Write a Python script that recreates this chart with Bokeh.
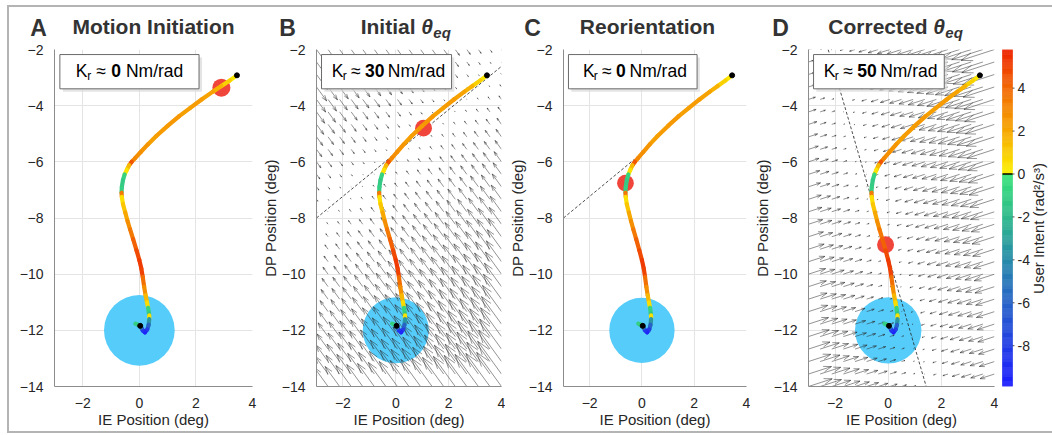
import numpy as np
from bokeh.plotting import figure
from bokeh.layouts import row, column
from bokeh.models import Label, Range1d, FixedTicker
from bokeh.embed import file_html
from bokeh.resources import INLINE

# ---------------- data ----------------
traj_x = [3.45, 3.2, 2.9, 2.6, 2.2, 1.8, 1.4, 1.0, 0.6, 0.3, 0.05, -0.15, -0.27, -0.36,
          -0.44, -0.52, -0.58, -0.62, -0.63, -0.62, -0.58, -0.5, -0.42, -0.33, -0.22, -0.1,
          0.0, 0.07, 0.12, 0.17, 0.22, 0.27, 0.31, 0.34, 0.35, 0.35, 0.33, 0.28, 0.2, 0.12,
          0.07, 0.02, -0.06, -0.14]
traj_y = [-2.92, -3.1, -3.3, -3.5, -3.78, -4.08, -4.38, -4.72, -5.08, -5.38, -5.65, -5.87,
          -6.0, -6.12, -6.28, -6.45, -6.65, -6.9, -7.1, -7.25, -7.5, -7.8, -8.1, -8.4, -8.75,
          -9.15, -9.5, -9.8, -10.1, -10.45, -10.75, -11.0, -11.2, -11.4, -11.47, -11.6, -11.8,
          -11.97, -12.07, -12.0, -11.9, -11.84, -11.8, -11.76]
traj_intent = [0.3, 0.9, 1.7, 2.2, 2.4, 2.3, 2.5, 2.4, 2.3, 2.6, 2.8, 3.0, 4.5, 1.5,
               0.4, -0.8, -1.2, -1.0, 3.5, 0.5, 1.2, 2.0, 2.8, 3.5, 4.2, 4.8,
               5.2, 5.0, 3.8, 2.8, 1.6, 0.6, -0.8, -1.5, 0.5, -3.5, -6.0,
               -8.0, -9.5, -8.5, -5.0, -2.0, -1.0, -0.8]
marker_x = [3.45, 0.03]
marker_y = [-2.92, -11.84]

panel_letters = ["A", "B", "C", "D"]
panel_titles = ["Motion Initiation", "Initial", "Reorientation", "Corrected"]
title_has_theta = [False, True, False, True]
stiffness_text = ["0", "30", "0", "50"]
red_x = [2.9, 1.05, -0.63, -0.1]
red_y = [-3.36, -4.8, -6.76, -8.95]
target_x = [0.0]
target_y = [-12.0]
target_r = 1.25
eq_lines = [None, ((-3.0, -8.0), (4.0, -2.6)), ((-3.0, -8.0), (-0.3, -5.92)),
            ((-2.26, -2.0), (1.43, -14.0))]
field_lines = [None, ((-3.0, -8.0), (4.0, -2.6)), None, ((-2.26, -2.0), (1.43, -14.0))]
field_scale = [0.0, 0.17, 0.0, 0.22]
x_ticks = [-2, 0, 2, 4]
y_ticks = [-14, -12, -10, -8, -6, -4, -2]
cb_ticks = [-8, -6, -4, -2, 0, 2, 4]
intent_low, intent_high = -9.9, 5.8
cb_label = "User Intent (rad²/s³)"

# colormap anchors (value, rgb)
cmap_anchors = [(-9.9, (30, 30, 255)), (-8, (35, 62, 230)), (-6, (40, 100, 200)),
                (-4, (40, 140, 170)), (-2, (48, 185, 140)), (-0.001, (58, 228, 122)),
                (0.0, (252, 242, 0)), (2, (247, 168, 0)), (4, (242, 105, 5)),
                (5.8, (238, 35, 0))]

FONT = "Liberation Sans"
SX = 198 / 7.0
SY = 337 / 12.0
FRAME_LEFTS = [54, 303, 548, 796]


def intent_color(v):
    v = max(intent_low, min(intent_high, v))
    for (a, ca), (b, cb_) in zip(cmap_anchors[:-1], cmap_anchors[1:]):
        if a <= v <= b:
            t = 0 if b == a else (v - a) / (b - a)
            c = [int(round(ca[k] + t * (cb_[k] - ca[k]))) for k in range(3)]
            return "#%02x%02x%02x" % tuple(c)
    return "#000000"


def quiver(p, line, scale):
    (x0, y0), (x1, y1) = line
    dx, dy = x1 - x0, y1 - y0
    n = np.hypot(dx, dy)
    dx, dy = dx / n, dy / n
    gx, gy = np.meshgrid(np.linspace(-3, 4, 17), np.linspace(-14, -2, 28))
    gx = gx.ravel()
    gy = gy.ravel()
    wx, wy = x0 - gx, y0 - gy
    pr = wx * dx + wy * dy
    u = scale * (wx - pr * dx)
    v = scale * (wy - pr * dy)
    tx, ty = gx + u, gy + v
    al, be = 0.33, 0.33
    h1x, h1y = tx - al * (u + be * v), ty - al * (v - be * u)
    h2x, h2y = tx - al * (u - be * v), ty - al * (v + be * u)
    xs0 = np.concatenate([gx, tx, tx])
    ys0 = np.concatenate([gy, ty, ty])
    xs1 = np.concatenate([tx, h1x, h2x])
    ys1 = np.concatenate([ty, h1y, h2y])
    p.segment(xs0, ys0, xs1, ys1, line_color="#2a2a2a", line_width=0.6, line_alpha=0.85)


def add_label(p, x, y, text, size, style="normal", color="#000000", align="left",
              baseline="middle", angle=0.0):
    p.add_layout(Label(x=x, y=y, text=text, text_font=FONT, text_font_size=size,
                       text_font_style=style, text_color=color, text_align=align,
                       text_baseline=baseline, angle=angle))


def make_panel(i, left, right, ylabel):
    p = figure(width=left + 198 + right, height=390, x_range=Range1d(-3, 4),
               y_range=Range1d(-14, -2), toolbar_location=None, output_backend="svg",
               min_border_left=left, min_border_right=right, min_border_top=8,
               min_border_bottom=45, title=None)
    p.outline_line_color = None
    p.xaxis.ticker = FixedTicker(ticks=x_ticks)
    p.yaxis.ticker = FixedTicker(ticks=y_ticks)
    for ax in (p.xaxis[0], p.yaxis[0]):
        ax.major_label_text_font = FONT
        ax.major_label_text_font_size = "14px"
        ax.major_label_text_color = "#262626"
        ax.axis_line_color = "#8c8c8c"
        ax.major_tick_line_color = None
        ax.minor_tick_line_color = None
        ax.major_label_standoff = 5
        ax.axis_label_text_font = FONT
        ax.axis_label_text_font_size = "15px"
        ax.axis_label_text_font_style = "normal"
        ax.axis_label_text_color = "#262626"
        ax.axis_label_standoff = 0
    p.xaxis.axis_label = "IE Position (deg)"
    if ylabel:
        p.yaxis.axis_label = "DP Position (deg)"
    p.grid.grid_line_color = "#e4e4e4"

    # target
    p.circle(target_x, target_y, radius=target_r, fill_color="#56ccfa", line_color=None)
    # field
    if field_lines[i] is not None:
        quiver(p, field_lines[i], field_scale[i])
    # equilibrium line
    if eq_lines[i] is not None:
        (a, b), (c, d) = eq_lines[i]
        p.line([a, c], [b, d], line_color="#222222", line_width=0.8, line_dash="3 2")
    # red dot
    p.circle([red_x[i]], [red_y[i]], radius=0.32, fill_color="#f0453b", line_color=None)
    # trajectory
    cols = [intent_color(v) for v in traj_intent[:-1]]
    p.segment(traj_x[:-1], traj_y[:-1], traj_x[1:], traj_y[1:], line_color=cols,
              line_width=4.2, line_cap="round")
    p.scatter(marker_x, marker_y, size=5, color="black")

    # stiffness box
    bx0, bx1, by0, by1 = -2.81, 2.11, -3.40, -2.18
    p.quad(left=bx0 + 3 / SX, right=bx1 + 3 / SX, bottom=by0 - 3 / SY, top=by1 - 3 / SY,
           fill_color="#d8d8d8", line_color=None, fill_alpha=0.7)
    p.quad(left=bx0, right=bx1, bottom=by0, top=by1, fill_color="white",
           line_color="#6a6a6a", line_width=1)
    nd = len(stiffness_text[i])
    total = 97.9 + 9.73 * nd
    s = 75 - total / 2.0
    ym = -2 - 21 / SY
    add_label(p, -3 + s / SX, ym, "K", "17.5px")
    add_label(p, -3 + (s + 11.67) / SX, ym - 5 / SY, "r", "12px")
    add_label(p, -3 + (s + 20.54) / SX, ym, "≈", "17.5px")
    add_label(p, -3 + (s + 35.63) / SX, ym, stiffness_text[i], "17.5px", style="bold")
    add_label(p, -3 + (s + 35.63 + 9.73 * nd + 4.87) / SX, ym, "Nm/rad", "17.5px")
    return p


# ---------------- title strip (absolute pixel coordinates) ----------------
tf = figure(width=1043, height=34, x_range=Range1d(9, 1052), y_range=Range1d(41, 7),
            toolbar_location=None, output_backend="svg", x_axis_type=None, y_axis_type=None,
            min_border=0, title=None)
tf.outline_line_color = None
tf.grid.visible = False
for i in range(4):
    fl = FRAME_LEFTS[i]
    add_label(tf, fl - 16, 27, panel_letters[i], "23px", style="bold", color="#333333",
              align="center")
    if not title_has_theta[i]:
        add_label(tf, fl + 99, 26, panel_titles[i], "21px", style="bold", color="#333333",
                  align="center")
    else:
        t = fl + (112 if i == 1 else 131)
        add_label(tf, t, 26, panel_titles[i], "21px", style="bold", color="#333333",
                  align="right")
        add_label(tf, t + 5.8, 26, "θ", "21px", style="bold italic", color="#333333")
        add_label(tf, t + 17.8, 32, "eq", "15px", style="bold italic", color="#333333")

pa = make_panel(0, 45, 6, False)
pb = make_panel(1, 45, 4, True)
pc = make_panel(2, 43, 4, True)
pd = make_panel(3, 46, 4, True)

# ---------------- colorbar ----------------
cb = figure(width=54, height=390, x_range=Range1d(998, 1052),
            y_range=Range1d(intent_low, intent_high), toolbar_location=None,
            output_backend="svg", x_axis_type=None, y_axis_type=None,
            min_border_left=0, min_border_right=0, min_border_top=8, min_border_bottom=45,
            title=None)
cb.outline_line_color = None
cb.grid.visible = False
edges = np.linspace(intent_low, intent_high, 315)
ccols = [intent_color(v) for v in (edges[:-1] + edges[1:]) / 2]
cb.quad(left=1002, right=1012, bottom=edges[:-1], top=edges[1:], fill_color=ccols,
        line_color=ccols, line_width=0.5)
cb.segment([1002], [0], [1012], [0], line_color="black", line_width=1.5)
cb.segment([1012] * len(cb_ticks), cb_ticks, [1014] * len(cb_ticks), cb_ticks,
           line_color="#262626", line_width=0.8)
for tv in cb_ticks:
    add_label(cb, 1017, tv, str(tv), "14px", color="#262626")
add_label(cb, 1038, -2.54, cb_label, "15px", color="#262626", align="center",
          angle=np.pi / 2)

layout = column(tf, row(pa, pb, pc, pd, cb, spacing=0), spacing=0, margin=(5, 0, 0, 7),
                styles={"border-top": "2px solid #b4b4b4", "border-left": "2px solid #b4b4b4",
                        "border-bottom": "2px solid #b4b4b4"})

open("out.html", "w").write(file_html(layout, INLINE))
